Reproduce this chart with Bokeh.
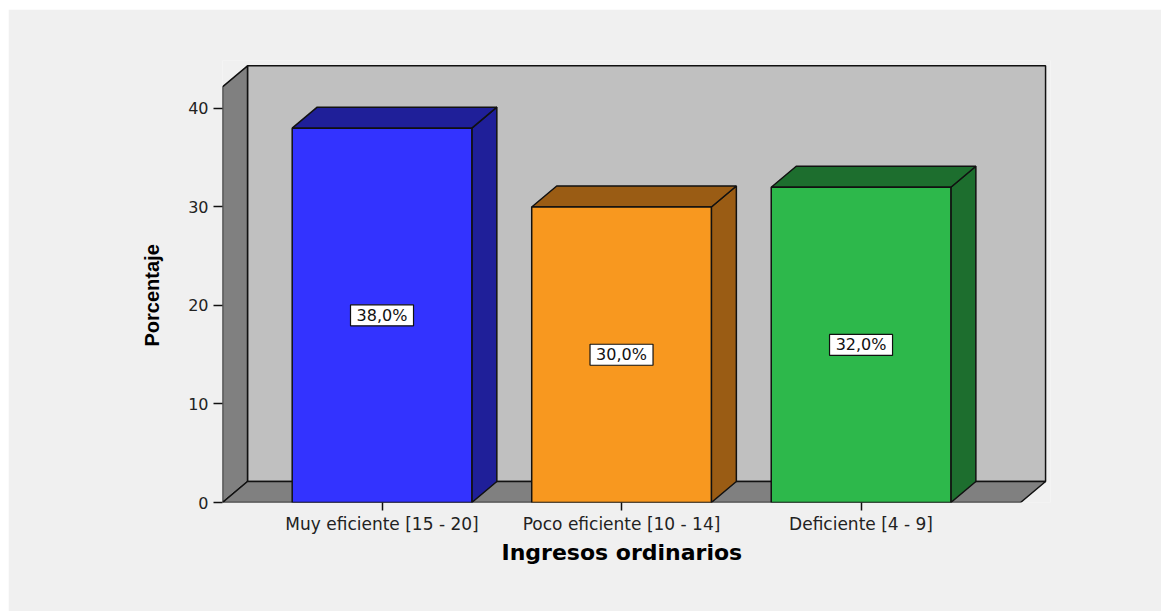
from bokeh.core.properties import value
from bokeh.embed import file_html
from bokeh.models import FixedTicker, Range1d, Title
from bokeh.plotting import figure
from bokeh.resources import INLINE

# Chart data
categorias = ["Muy eficiente [15 - 20]", "Poco eficiente [10 - 14]", "Deficiente [4 - 9]"]
porcentajes = [38.0, 30.0, 32.0]
y_ticks = [0, 10, 20, 30, 40]
x_titulo = "Ingresos ordinarios"
y_titulo = "Porcentaje"

# Face colours of each bar: front and shaded (top / side)
color_frente = ["#3333ff", "#f8981f", "#2db84b"]
color_sombra = ["#1f1f99", "#9a5c14", "#1d6e2e"]

# Geometry of the pseudo-3D box (data units)
pos = [1, 2, 3]
ancho = 0.75          # bar width
x0, x1 = 0.334, 3.666  # front edges of the floor
dx, dy = 0.1044, 2.13  # depth offset
y_muro = 42.2          # height of the front edge of the side wall
linea = "#111111"
lw = 1.5

p = figure(
    width=1153, height=602,
    x_range=Range1d(x0, x0 + 3.457), y_range=Range1d(0, 44.87),
    output_backend="svg", toolbar_location=None,
    min_border_left=214, min_border_right=111,
    min_border_top=51, min_border_bottom=109,
    background_fill_color="#f0f0f0", border_fill_color="#f0f0f0",
    outline_line_color=None,
)
p.margin = (9, 0, 0, 8)
p.grid.visible = False

# Back wall
p.patch([x0 + dx, x1 + dx, x1 + dx, x0 + dx], [dy, dy, y_muro + dy, y_muro + dy],
        fill_color="#c0c0c0", line_color=linea, line_width=lw)
# Left wall
p.patch([x0, x0, x0 + dx, x0 + dx], [0, y_muro, y_muro + dy, dy],
        fill_color="#808080", line_color=linea, line_width=lw)
# Floor
p.patch([x0, x1, x1 + dx, x0 + dx], [0, 0, dy, dy],
        fill_color="#808080", line_color=linea, line_width=lw)

# Bars: side, top and front faces
for c, v, cf, cs in zip(pos, porcentajes, color_frente, color_sombra):
    l, r = c - ancho / 2, c + ancho / 2
    p.patch([r, r + dx, r + dx, r], [0, dy, v + dy, v],
            fill_color=cs, line_color=linea, line_width=lw)
    p.patch([l, r, r + dx, l + dx], [v, v, v + dy, v + dy],
            fill_color=cs, line_color=linea, line_width=lw)
    p.patch([l, r, r, l], [0, 0, v, v],
            fill_color=cf, line_color=linea, line_width=lw)

# Value labels in white boxes at mid-height of each bar
etiquetas = [f"{v:.1f}%".replace(".", ",") for v in porcentajes]
medios = [v / 2 for v in porcentajes]
p.rect(pos, medios, width=63, height=21, width_units="screen", height_units="screen",
       fill_color="white", line_color=linea, line_width=1.2)
p.text(pos, medios, text=etiquetas, text_align="center", text_baseline="middle",
       text_font=value("DejaVu Sans"), text_font_size="16px", text_color="#111111")

# Axes
p.yaxis.ticker = FixedTicker(ticks=y_ticks)
p.yaxis.axis_line_color = None
p.yaxis.major_tick_out = 9
p.yaxis.major_tick_in = 0
p.yaxis.minor_tick_line_color = None
p.yaxis.major_tick_line_width = 1.5
p.yaxis.major_tick_line_color = linea
p.yaxis.major_label_standoff = 5
p.yaxis.major_label_text_font = "DejaVu Sans"
p.yaxis.major_label_text_font_size = "16px"
p.yaxis.major_label_text_color = "#222222"

p.xaxis.ticker = FixedTicker(ticks=pos)
p.xaxis.major_label_overrides = {c: n for c, n in zip(pos, categorias)}
p.xaxis.axis_line_color = None
p.xaxis.major_tick_out = 8
p.xaxis.major_tick_in = 0
p.xaxis.minor_tick_line_color = None
p.xaxis.major_tick_line_width = 1.5
p.xaxis.major_tick_line_color = linea
p.xaxis.major_label_standoff = 3
p.xaxis.major_label_text_font = "DejaVu Sans"
p.xaxis.major_label_text_font_size = "17px"
p.xaxis.major_label_text_color = "#222222"

# Axis titles, offset from the frame's left / bottom edge
p.add_layout(Title(text=x_titulo, align="left", offset=279, standoff=2,
                   text_font="DejaVu Sans", text_font_style="bold", text_font_size="22px",
                   text_color="black"), "below")
p.add_layout(Title(text=y_titulo, align="left", offset=156, standoff=46,
                   text_font="Liberation Sans", text_font_style="bold", text_font_size="20px",
                   text_color="black"), "left")

open("out.html", "w").write(file_html(p, INLINE))
